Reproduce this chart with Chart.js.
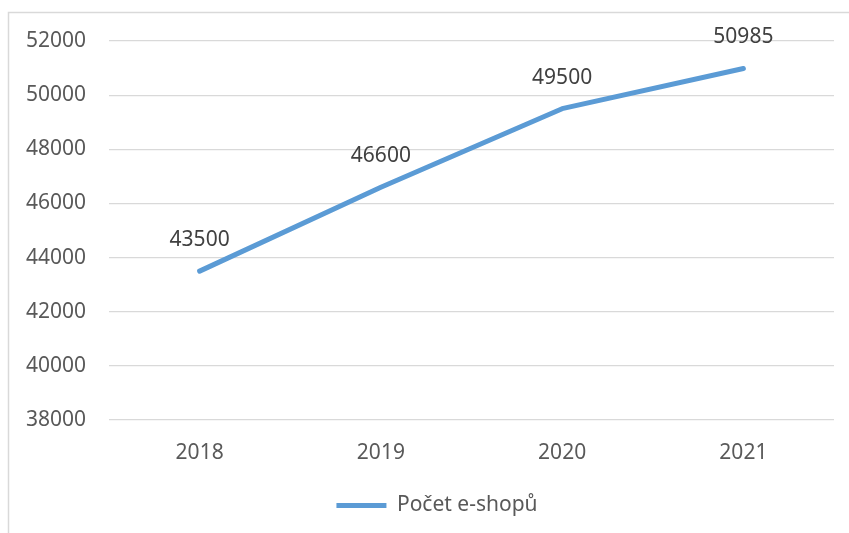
<!DOCTYPE html>
<html>
<head>
<meta charset="utf-8">
<script src="https://cdn.jsdelivr.net/npm/chart.js@4"></script>
<style>
  html, body { margin: 0; padding: 0; background: #fff; }
  #wrap { width: 849px; height: 533px; position: relative; }
</style>
</head>
<body>
<div id="wrap"><canvas id="graf"></canvas></div>
<script>
// data
const roky = ['2018', '2019', '2020', '2021'];
const pocetEshopu = [43500, 46600, 49500, 50985];
const osaY = { min: 38000, max: 52000, krok: 2000 };

const barva = '#5B9BD5';
const font = "'Noto Sans', 'Open Sans', sans-serif";

// ramecek kolem grafu
const ramecek = {
    id: 'ramecek',
    beforeDraw(chart) {
        const c = chart.ctx;
        c.save();
        c.fillStyle = '#ffffff';
        c.fillRect(0, 0, chart.width, chart.height);
        c.strokeStyle = '#d9d9d9';
        c.lineWidth = 1.5;
        c.strokeRect(8.5, 12.5, 900, 600);
        c.restore();
    }
};

// legendu posunout trochu doprava (stred pod plochou grafu)
const posunLegendy = {
    id: 'posunLegendy',
    afterLayout(chart) {
        if (chart.legend) {
            chart.legend.left += 7;
            chart.legend.right += 7;
        }
    }
};

// popisky hodnot nad body
const popisky = {
    id: 'popisky',
    afterDatasetsDraw(chart) {
        const c = chart.ctx;
        const meta = chart.getDatasetMeta(0);
        c.save();
        c.font = '21px ' + font;
        c.fillStyle = '#404040';
        c.textAlign = 'center';
        c.textBaseline = 'middle';
        meta.data.forEach((pt, i) => {
            c.fillText(String(chart.data.datasets[0].data[i]), pt.x, pt.y - 31);
        });
        c.restore();
    }
};

const ctx = document.getElementById('graf').getContext('2d');
new Chart(ctx, {
    type: 'line',
    data: {
        labels: roky,
        datasets: [{
            label: 'Počet e-shopů',
            data: pocetEshopu,
            borderColor: barva,
            backgroundColor: barva,
            borderWidth: 5,
            borderCapStyle: 'round',
            borderJoinStyle: 'round',
            pointRadius: 0,
            tension: 0
        }]
    },
    options: {
        responsive: true,
        maintainAspectRatio: false,
        animation: false,
        layout: { padding: { left: 26, right: 15, top: 41, bottom: 7 } },
        plugins: {
            tooltip: { enabled: false },
            legend: {
                position: 'bottom',
                labels: {
                    padding: 8,
                    boxWidth: 50,
                    boxHeight: 5,
                    color: '#595959',
                    font: { family: font, size: 21 },
                    generateLabels: (chart) => chart.data.datasets.map((ds, i) => ({
                        text: ds.label,
                        fillStyle: ds.borderColor,
                        strokeStyle: ds.borderColor,
                        lineWidth: 0,
                        fontColor: '#595959',
                        datasetIndex: i
                    }))
                }
            }
        },
        scales: {
            x: {
                offset: true,
                grid: { display: false },
                border: { display: false },
                ticks: {
                    color: '#595959',
                    font: { family: font, size: 21 },
                    padding: 12,
                    maxRotation: 0
                },
                afterFit: (s) => { s.height = 67; }
            },
            y: {
                min: osaY.min,
                max: osaY.max,
                grid: { color: '#d9d9d9', lineWidth: 1.2, drawTicks: false },
                border: { display: false },
                ticks: {
                    stepSize: osaY.krok,
                    color: '#595959',
                    font: { family: font, size: 21 },
                    padding: 23,
                    callback: (v) => String(v)
                },
                afterFit: (s) => { s.width = 83; }
            }
        }
    },
    plugins: [ramecek, posunLegendy, popisky]
});
</script>
</body>
</html>
